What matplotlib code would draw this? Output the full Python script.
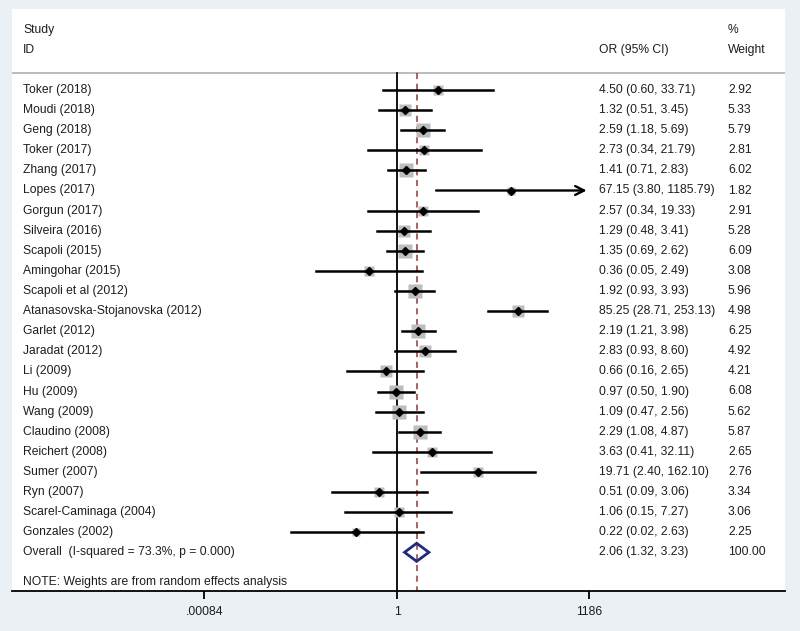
import numpy as np
import matplotlib
matplotlib.use('Agg')
import matplotlib.pyplot as plt
from matplotlib.patches import Polygon

plt.rcParams['font.family'] = ['Liberation Sans', 'DejaVu Sans']

studies = ['Toker (2018)', 'Moudi (2018)', 'Geng (2018)', 'Toker (2017)',
           'Zhang (2017)', 'Lopes (2017)', 'Gorgun (2017)', 'Silveira (2016)',
           'Scapoli (2015)', 'Amingohar (2015)', 'Scapoli et al (2012)',
           'Atanasovska-Stojanovska (2012)', 'Garlet (2012)', 'Jaradat (2012)',
           'Li (2009)', 'Hu (2009)', 'Wang (2009)', 'Claudino (2008)',
           'Reichert (2008)', 'Sumer (2007)', 'Ryn (2007)',
           'Scarel-Caminaga (2004)', 'Gonzales (2002)']
odds = [4.50, 1.32, 2.59, 2.73, 1.41, 67.15, 2.57, 1.29, 1.35, 0.36, 1.92,
        85.25, 2.19, 2.83, 0.66, 0.97, 1.09, 2.29, 3.63, 19.71, 0.51, 1.06, 0.22]
ci_low = [0.60, 0.51, 1.18, 0.34, 0.71, 3.80, 0.34, 0.48, 0.69, 0.05, 0.93,
          28.71, 1.21, 0.93, 0.16, 0.50, 0.47, 1.08, 0.41, 2.40, 0.09, 0.15, 0.02]
ci_high = [33.71, 3.45, 5.69, 21.79, 2.83, 1185.79, 19.33, 3.41, 2.62, 2.49,
           3.93, 253.13, 3.98, 8.60, 2.65, 1.90, 2.56, 4.87, 32.11, 162.10,
           3.06, 7.27, 2.63]
weights = [2.92, 5.33, 5.79, 2.81, 6.02, 1.82, 2.91, 5.28, 6.09, 3.08, 5.96,
           4.98, 6.25, 4.92, 4.21, 6.08, 5.62, 5.87, 2.65, 2.76, 3.34, 3.06, 2.25]

overall_label = 'Overall  (I-squared = 73.3%, p = 0.000)'
overall_or, overall_lo, overall_hi = 2.06, 1.32, 3.23
tick_values = [0.00084, 1, 1186]
tick_labels = ['.00084', '1', '1186']

bg = '#eaf0f3'
txt = '#1e1e1e'
W, H = 800, 631

fig = plt.figure(figsize=(W / 100, H / 100), dpi=100, facecolor=bg)
ax = fig.add_axes([12 / W, 1 - 591 / H, 773 / W, 582 / H], facecolor='white')

# log10 scale: 1 at x=397px, 62.6 px per decade
px_per_dec = 62.6
ax.set_xscale('log')
ax.set_xlim(10 ** ((12 - 397) / px_per_dec), 10 ** ((785 - 397) / px_per_dec))
row_top = (9 - 90) / 20.1
row_bot = (591 - 90) / 20.1
ax.set_ylim(row_bot, row_top)

for side in ['top', 'left', 'right']:
    ax.spines[side].set_visible(False)
ax.spines['bottom'].set_linewidth(1.3)
ax.set_yticks([])
ax.set_xticks(tick_values)
ax.set_xticklabels(tick_labels)
ax.xaxis.set_minor_locator(matplotlib.ticker.NullLocator())
ax.tick_params(axis='x', length=6, width=1.3, labelsize=8.7, colors='black',
               labelcolor=txt, pad=5)

tr = ax.get_yaxis_transform()  # x in axes fraction, y in data
x_study, x_or, x_wt = (23 - 12) / 773, (599 - 12) / 773, (728 - 12) / 773
fs = 8.7

# header
head_line = (73 - 90) / 20.1
ax.text(x_study, -2.985, 'Study', transform=tr, fontsize=fs, color=txt, va='center')
ax.text(x_study, -1.99, 'ID', transform=tr, fontsize=fs, color=txt, va='center')
ax.text(x_or, -1.99, 'OR (95% CI)', transform=tr, fontsize=fs, color=txt, va='center')
ax.text(x_wt, -2.985, '%', transform=tr, fontsize=fs, color=txt, va='center')
ax.text(x_wt, -1.99, 'Weight', transform=tr, fontsize=fs, color=txt, va='center')
ax.axhline(head_line, color='#b0b0b0', lw=1.2)

# reference lines
ax.plot([1, 1], [head_line, row_bot], color='black', lw=1.3, zorder=2)
ax.plot([overall_or, overall_or], [head_line, row_bot], color='#a03030',
        lw=1.1, ls=(0, (4, 3)), zorder=2)

xmax = tick_values[-1]
for i, (name, o, lo, hi, w) in enumerate(zip(studies, odds, ci_low, ci_high, weights)):
    ax.text(x_study, i, name, transform=tr, fontsize=fs, color=txt, va='center')
    ax.text(x_or, i, f'{o:.2f} ({lo:.2f}, {hi:.2f})', transform=tr,
            fontsize=fs, color=txt, va='center')
    ax.text(x_wt, i, f'{w:.2f}', transform=tr, fontsize=fs, color=txt, va='center')
    side = 5.6 * np.sqrt(w) * 0.72
    ax.plot(o, i, marker='s', markersize=side, color='#bdbdbd', mec='none', zorder=3)
    if hi >= xmax - 1:
        ax.annotate('', xy=(xmax, i), xytext=(lo, i),
                    arrowprops=dict(arrowstyle='->', color='black', lw=1.7,
                                    mutation_scale=16), zorder=4)
    else:
        ax.plot([lo, hi], [i, i], color='black', lw=1.8, zorder=4)
    ax.plot(o, i, marker='D', markersize=4, color='black', zorder=5)

# overall
r = len(studies)
ax.text(x_study, r, overall_label, transform=tr, fontsize=fs, color=txt, va='center')
ax.text(x_or, r, f'{overall_or:.2f} ({overall_lo:.2f}, {overall_hi:.2f})',
        transform=tr, fontsize=fs, color=txt, va='center')
ax.text(x_wt, r, '100.00', transform=tr, fontsize=fs, color=txt, va='center')
diamond = Polygon([(overall_lo, r), (overall_or, r - 0.45), (overall_hi, r),
                   (overall_or, r + 0.45)], closed=True, fill=False,
                  edgecolor='#1f2a80', lw=2.0, zorder=5)
ax.add_patch(diamond)

ax.text(x_study, (582 - 90) / 20.1, 'NOTE: Weights are from random effects analysis',
        transform=tr, fontsize=fs, color=txt, va='center')

fig.savefig('out.png', dpi=100, facecolor=bg)
